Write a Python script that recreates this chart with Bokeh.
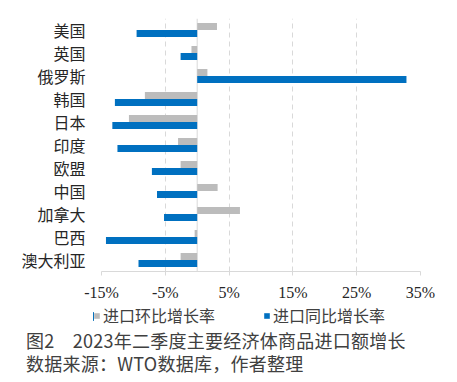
from bokeh.plotting import figure
from bokeh.layouts import column, row
from bokeh.models import (Range1d, FactorRange, FixedTicker, Span, Legend,
                          LegendItem, Div, ColumnDataSource)
from bokeh.transform import dodge
from bokeh.embed import file_html
from bokeh.resources import INLINE

categories = ["美国", "英国", "俄罗斯", "韩国", "日本", "印度", "欧盟",
              "中国", "加拿大", "巴西", "澳大利亚"]
mom_growth = [3.1, -0.9, 1.6, -8.2, -10.7, -3.0, -2.6, 3.2, 6.7, -0.4, -2.6]
yoy_growth = [-9.5, -2.6, 32.8, -12.9, -13.3, -12.5, -7.1, -6.3, -5.2, -14.3, -9.2]
x_ticks = [-15, -5, 5, 15, 25, 35]
x_tick_labels = ["-15%", "-5%", "5%", "15%", "25%", "35%"]
series_names = ["进口环比增长率", "进口同比增长率"]
caption_lines = ["图2　2023年二季度主要经济体商品进口额增长",
                 "数据来源：WTO数据库，作者整理"]

GRAY = "#BCBCBC"
BLUE = "#0070C0"
CJK = "Noto Sans CJK SC"
SERIF = "Liberation Serif"

src = ColumnDataSource(dict(cat=categories, mom=mom_growth, yoy=yoy_growth))

W = 449
p = figure(width=W, height=303, output_backend="svg", toolbar_location=None,
           x_range=Range1d(-15, 35),
           y_range=FactorRange(*reversed(categories)),
           min_border_left=101, min_border_right=W - 420, min_border_top=18,
           min_border_bottom=30, margin=(0, 0, 0, 0))
p.outline_line_color = None
p.background_fill_color = "white"

p.hbar(y=dodge("cat", 0.15, range=p.y_range), right="mom", left=0,
       height=0.3, source=src, color=GRAY, line_color=None)
p.hbar(y=dodge("cat", -0.15, range=p.y_range), right="yoy", left=0,
       height=0.3, source=src, color=BLUE, line_color=None)

zero = Span(location=0, dimension="height", line_color="#D9D9D9", line_width=1,
            level="underlay")
p.add_layout(zero)

# x axis
p.xaxis.ticker = FixedTicker(ticks=x_ticks)
p.xaxis.major_label_overrides = {t: l for t, l in zip(x_ticks, x_tick_labels)}
p.xaxis.axis_line_color = "#D9D9D9"
p.xaxis.major_tick_line_color = "#D9D9D9"
p.xaxis.major_tick_out = 4
p.xaxis.major_tick_in = 0
p.xaxis.minor_tick_line_color = None
p.xaxis.major_label_text_font = SERIF
p.xaxis.major_label_text_font_size = "16px"
p.xaxis.major_label_text_color = "#262626"
p.xaxis.major_label_standoff = 8

p.xgrid.ticker = FixedTicker(ticks=x_ticks)
p.xgrid.grid_line_color = "#D9D9D9"
p.xgrid.grid_line_dash = "5 4"
p.ygrid.grid_line_color = None

# y axis
p.yaxis.axis_line_color = None
p.yaxis.major_tick_line_color = None
p.yaxis.minor_tick_line_color = None
p.yaxis.major_label_text_font = CJK
p.yaxis.major_label_text_font_size = "16px"
p.yaxis.major_label_text_color = "#262626"
p.yaxis.major_label_standoff = 10

# legend strip (a separate small figure below the chart; its bars lie
# outside its visible x range, only the legend shows)
pl = figure(width=W, height=26, output_backend="svg", toolbar_location=None,
            x_range=Range1d(1000, 1001), y_range=Range1d(0, 1),
            x_axis_location=None, y_axis_location=None,
            min_border_left=93, min_border_right=W - 420,
            min_border_top=0, min_border_bottom=0, margin=(0, 0, 0, 0))
pl.grid.visible = False
pl.outline_line_color = None
g1 = pl.hbar(y=0.5, right="mom", left=0, height=0.3, source=src,
             color=GRAY, line_color=None)
g2 = pl.hbar(y=0.5, right="yoy", left=0, height=0.3, source=src,
             color=BLUE, line_color=None)
legend = Legend(items=[LegendItem(label=series_names[0], renderers=[g1]),
                       LegendItem(label=series_names[1], renderers=[g2])],
                orientation="horizontal", location=(0, 2),
                glyph_width=7, glyph_height=7, label_standoff=3, spacing=48,
                padding=0, margin=0, border_line_color=None,
                background_fill_alpha=0,
                label_text_font=CJK, label_text_font_size="16px",
                label_text_color="#404040")
pl.add_layout(legend)

caption = Div(text="<br>".join(caption_lines), width=W, margin=(0, 0, 0, 0),
              styles={"font-family": CJK, "font-size": "18px",
                      "color": "#404040", "line-height": "23px",
                      "letter-spacing": "0.25px",
                      "padding-left": "26px", "white-space": "nowrap"})

layout = column(p, row(pl, margin=(0, 0, 0, 0), spacing=0), caption,
                spacing=0, margin=(0, 0, 0, 0))

open("out.html", "w").write(file_html(layout, INLINE))
